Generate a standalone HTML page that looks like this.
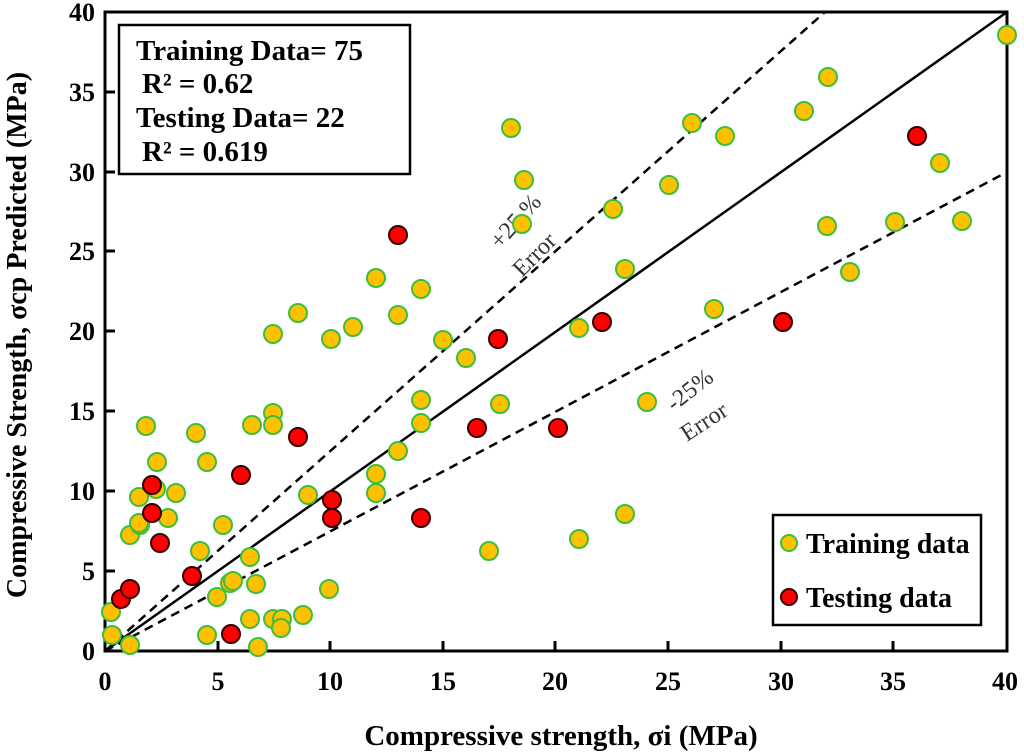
<!DOCTYPE html>
<html><head><meta charset="utf-8"><style>body{margin:0;background:#fff}svg{display:block}text{font-family:"Liberation Serif",serif}</style></head><body>
<svg width="1024" height="754" xmlns="http://www.w3.org/2000/svg">
<rect x="105" y="12" width="902" height="639" fill="none" stroke="#000" stroke-width="3"/>
<g stroke="#000" stroke-width="3">
<line x1="105" y1="571" x2="115" y2="571"/><line x1="105" y1="491" x2="115" y2="491"/><line x1="105" y1="411" x2="115" y2="411"/><line x1="105" y1="331" x2="115" y2="331"/><line x1="105" y1="251" x2="115" y2="251"/><line x1="105" y1="172" x2="115" y2="172"/><line x1="105" y1="92" x2="115" y2="92"/>
<line x1="218" y1="651" x2="218" y2="641"/><line x1="330" y1="651" x2="330" y2="641"/><line x1="443" y1="651" x2="443" y2="641"/><line x1="555" y1="651" x2="555" y2="641"/><line x1="668" y1="651" x2="668" y2="641"/><line x1="781" y1="651" x2="781" y2="641"/><line x1="893" y1="651" x2="893" y2="641"/>
</g>
<g font-size="26" font-weight="bold" text-anchor="end">
<text x="95" y="660">0</text><text x="95" y="580">5</text><text x="95" y="500">10</text><text x="95" y="420">15</text><text x="95" y="340">20</text><text x="95" y="260">25</text><text x="95" y="181">30</text><text x="95" y="101">35</text><text x="95" y="21">40</text>
</g>
<g font-size="26" font-weight="bold" text-anchor="middle">
<text x="105" y="690">0</text><text x="218" y="690">5</text><text x="330" y="690">10</text><text x="443" y="690">15</text><text x="555" y="690">20</text><text x="668" y="690">25</text><text x="781" y="690">30</text><text x="893" y="690">35</text><text x="1005" y="690">40</text>
</g>
<text x="561" y="745" font-size="29" font-weight="bold" text-anchor="middle">Compressive strength, σi (MPa)</text>
<text transform="translate(26,335) rotate(-90)" font-size="28" font-weight="bold" text-anchor="middle">Compressive Strength, σcp  Predicted  (MPa)</text>
<line x1="105" y1="651" x2="1007" y2="12" stroke="#000" stroke-width="2.5"/>
<line x1="105" y1="651" x2="825" y2="12" stroke="#000" stroke-width="2.5" stroke-dasharray="9,6"/>
<line x1="105" y1="651" x2="1007" y2="172" stroke="#000" stroke-width="2.5" stroke-dasharray="9,6"/>
<text transform="translate(500,250) rotate(-48)" font-size="24" fill="#333">+25 %</text>
<text transform="translate(522,278) rotate(-45)" font-size="24" fill="#333">Error</text>
<text transform="translate(674,412) rotate(-38)" font-size="24" fill="#333">-25%</text>
<text transform="translate(687,442) rotate(-33)" font-size="24" fill="#333">Error</text>
<g fill="#FFC000" stroke="#3cbf3c" stroke-width="2">
<circle cx="111" cy="612" r="9"/><circle cx="112" cy="635" r="9"/><circle cx="130" cy="645" r="9"/><circle cx="130" cy="535" r="9"/><circle cx="140" cy="525" r="9"/><circle cx="139" cy="523" r="9"/><circle cx="139" cy="497" r="9"/><circle cx="156" cy="489" r="9"/><circle cx="168" cy="518" r="9"/><circle cx="157" cy="462" r="9"/><circle cx="146" cy="426" r="9"/><circle cx="176" cy="493" r="9"/><circle cx="196" cy="433" r="9"/><circle cx="207" cy="462" r="9"/><circle cx="200" cy="551" r="9"/><circle cx="217" cy="597" r="9"/><circle cx="223" cy="525" r="9"/><circle cx="230" cy="583" r="9"/><circle cx="233" cy="581" r="9"/><circle cx="207" cy="635" r="9"/><circle cx="250" cy="557" r="9"/><circle cx="258" cy="647" r="9"/><circle cx="256" cy="584" r="9"/><circle cx="250" cy="619" r="9"/><circle cx="252" cy="425" r="9"/><circle cx="273" cy="619" r="9"/><circle cx="282" cy="619" r="9"/><circle cx="281" cy="628" r="9"/><circle cx="303" cy="615" r="9"/><circle cx="273" cy="413" r="9"/><circle cx="273" cy="425" r="9"/><circle cx="273" cy="334" r="9"/><circle cx="298" cy="313" r="9"/><circle cx="308" cy="495" r="9"/><circle cx="331" cy="339" r="9"/><circle cx="353" cy="327" r="9"/><circle cx="329" cy="589" r="9"/><circle cx="376" cy="278" r="9"/><circle cx="376" cy="474" r="9"/><circle cx="376" cy="493" r="9"/><circle cx="398" cy="315" r="9"/><circle cx="398" cy="451" r="9"/><circle cx="421" cy="289" r="9"/><circle cx="421" cy="400" r="9"/><circle cx="421" cy="423" r="9"/><circle cx="443" cy="340" r="9"/><circle cx="466" cy="358" r="9"/><circle cx="500" cy="404" r="9"/><circle cx="511" cy="128" r="9"/><circle cx="524" cy="180" r="9"/><circle cx="522" cy="224" r="9"/><circle cx="489" cy="551" r="9"/><circle cx="579" cy="328" r="9"/><circle cx="579" cy="539" r="9"/><circle cx="613" cy="209" r="9"/><circle cx="625" cy="269" r="9"/><circle cx="625" cy="514" r="9"/><circle cx="669" cy="185" r="9"/><circle cx="692" cy="123" r="9"/><circle cx="647" cy="402" r="9"/><circle cx="714" cy="309" r="9"/><circle cx="725" cy="136" r="9"/><circle cx="804" cy="111" r="9"/><circle cx="828" cy="77" r="9"/><circle cx="827" cy="226" r="9"/><circle cx="850" cy="272" r="9"/><circle cx="895" cy="222" r="9"/><circle cx="940" cy="163" r="9"/><circle cx="962" cy="221" r="9"/><circle cx="1007" cy="35" r="9"/>
</g>
<g fill="#FF0000" stroke="#300" stroke-width="2">
<circle cx="121" cy="599" r="9"/><circle cx="130" cy="589" r="9"/><circle cx="152" cy="485" r="9"/><circle cx="152" cy="513" r="9"/><circle cx="160" cy="543" r="9"/><circle cx="192" cy="576" r="9"/><circle cx="231" cy="634" r="9"/><circle cx="241" cy="475" r="9"/><circle cx="298" cy="437" r="9"/><circle cx="332" cy="500" r="9"/><circle cx="332" cy="518" r="9"/><circle cx="398" cy="235" r="9"/><circle cx="421" cy="518" r="9"/><circle cx="477" cy="428" r="9"/><circle cx="498" cy="339" r="9"/><circle cx="558" cy="428" r="9"/><circle cx="602" cy="322" r="9"/><circle cx="783" cy="322" r="9"/><circle cx="917" cy="136" r="9"/>
</g>
<rect x="119" y="25" width="291" height="149" fill="#fff" stroke="#000" stroke-width="2.5"/>
<g font-size="29" font-weight="bold">
<text x="136" y="60">Training Data= 75</text>
<text x="142" y="93">R² = 0.62</text>
<text x="136" y="127">Testing Data= 22</text>
<text x="142" y="161">R² = 0.619</text>
</g>
<rect x="773" y="515" width="208" height="110" fill="#fff" stroke="#000" stroke-width="2.5"/>
<circle cx="789" cy="543" r="8" fill="#FFC000" stroke="#3cbf3c" stroke-width="2"/>
<circle cx="789" cy="597" r="8" fill="#FF0000" stroke="#300" stroke-width="2"/>
<g font-size="28" font-weight="bold"><text x="806" y="553">Training data</text><text x="806" y="607">Testing data</text></g>
</svg>
</body></html>
